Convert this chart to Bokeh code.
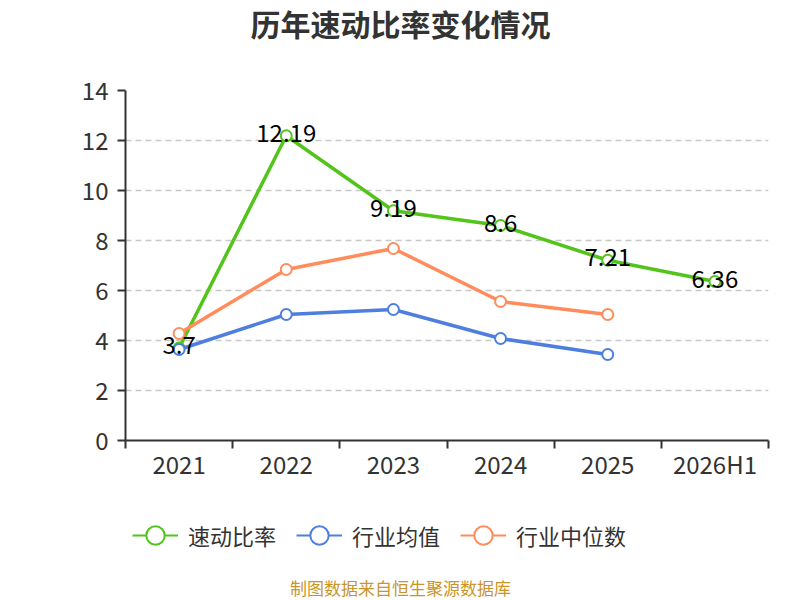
from bokeh.plotting import figure
from bokeh.layouts import column
from bokeh.models import (Range1d, FixedTicker, Legend, LegendItem, Label,
                          ColumnDataSource)
from bokeh.core.properties import value
from bokeh.embed import file_html
from bokeh.resources import INLINE

categories = ["2021", "2022", "2023", "2024", "2025", "2026H1"]
quick_ratio = [3.7, 12.19, 9.19, 8.6, 7.21, 6.36]
industry_mean = [3.64, 5.04, 5.24, 4.08, 3.44]
industry_median = [4.28, 6.84, 7.68, 5.56, 5.04]
y_ticks = [0, 2, 4, 6, 8, 10, 12, 14]

title_text = "历年速动比率变化情况"
source_text = "制图数据来自恒生聚源数据库"
series_names = ["速动比率", "行业均值", "行业中位数"]
colors = ["#52c41a", "#4e7fe0", "#ff8c5a"]

FONT = "Noto Sans CJK SC"
W = 800
H_TITLE, H_MAIN, H_LEG = 45, 450, 105
LEFT, RIGHT = 125, 32


def blank(h):
    # frames of the column children are aligned with the main chart's frame
    f = figure(width=W, height=h, output_backend="svg", toolbar_location=None,
               x_range=Range1d(0, W - LEFT - RIGHT), y_range=Range1d(0, h),
               x_axis_type=None, y_axis_type=None,
               min_border_left=LEFT, min_border_right=RIGHT,
               min_border_top=0, min_border_bottom=0)
    f.outline_line_color = None
    f.xgrid.grid_line_color = None
    f.ygrid.grid_line_color = None
    f.background_fill_color = "white"
    f.border_fill_color = "white"
    return f


# ---- title strip
pt = blank(H_TITLE)
pt.add_layout(Label(x=400 - LEFT, y=H_TITLE - 22, x_units="screen",
                    y_units="screen", text=title_text, text_align="center",
                    text_baseline="middle", text_font=FONT,
                    text_font_size="30px", text_font_style="bold",
                    text_color="#333333"))

# ---- main chart
TOP = 90 - H_TITLE
BOTTOM = H_TITLE + H_MAIN - 440
p = figure(width=W, height=H_MAIN, output_backend="svg", toolbar_location=None,
           x_range=Range1d(-0.5, len(categories) - 0.5),
           y_range=Range1d(0, 14),
           min_border_left=LEFT, min_border_right=RIGHT,
           min_border_top=TOP, min_border_bottom=BOTTOM)
p.outline_line_color = None
p.background_fill_color = "white"
p.border_fill_color = "white"
p.xgrid.grid_line_color = None
p.ygrid.grid_line_color = "#c8c8c8"
p.ygrid.grid_line_dash = "6 4"
p.ygrid.grid_line_width = 1.5
p.ygrid.ticker = FixedTicker(ticks=y_ticks)

p.yaxis.ticker = FixedTicker(ticks=y_ticks, minor_ticks=[])
p.yaxis.axis_line_color = "#333333"
p.yaxis.axis_line_width = 2
p.yaxis.major_tick_line_color = "#333333"
p.yaxis.major_tick_line_width = 2
p.yaxis.major_tick_out = 8
p.yaxis.major_tick_in = 0
p.yaxis.minor_tick_line_color = None
p.yaxis.major_label_text_font = FONT
p.yaxis.major_label_text_font_size = "24px"
p.yaxis.major_label_text_color = "#333333"
p.yaxis.major_label_standoff = 9

xs = list(range(len(categories)))
bounds = [i - 0.5 for i in range(len(categories) + 1)]
p.xaxis.ticker = FixedTicker(ticks=xs, minor_ticks=bounds)
p.xaxis.major_label_overrides = {i: c for i, c in enumerate(categories)}
p.xaxis.axis_line_color = "#333333"
p.xaxis.axis_line_width = 2
p.xaxis.major_tick_line_color = None
p.xaxis.major_tick_out = 0
p.xaxis.major_tick_in = 0
p.xaxis.minor_tick_line_color = "#333333"
p.xaxis.minor_tick_line_width = 2
p.xaxis.minor_tick_out = 8
p.xaxis.minor_tick_in = 0
p.xaxis.major_label_text_font = FONT
p.xaxis.major_label_text_font_size = "24px"
p.xaxis.major_label_text_color = "#333333"
p.xaxis.major_label_standoff = -3

series = [quick_ratio, industry_mean, industry_median]
for name, vals, col in zip(series_names, series, colors):
    src = ColumnDataSource(dict(x=xs[:len(vals)], y=vals))
    p.line("x", "y", source=src, line_color=col, line_width=3.5)
    p.scatter("x", "y", source=src, size=11, marker="circle",
              fill_color="white", line_color=col, line_width=2)

lab_src = ColumnDataSource(dict(x=xs, y=quick_ratio,
                                t=[f"{v:g}" for v in quick_ratio]))
p.text("x", "y", text="t", source=lab_src, text_align="center",
       text_baseline="middle", text_font=value(FONT), y_offset=-3,
       text_font_size="24px", text_color="#000000")

# ---- legend + source strip
pl = blank(H_LEG)
items = []
for name, col in zip(series_names, colors):
    dsrc = ColumnDataSource(dict(x=[-1000], y=[-1000]))
    ln = pl.line("x", "y", source=dsrc, line_color=col, line_width=2)
    sc = pl.scatter("x", "y", source=dsrc, size=18, marker="circle",
                    fill_color="white", line_color=col, line_width=2)
    items.append(LegendItem(label=name, renderers=[ln, sc]))
legend = Legend(items=items, orientation="horizontal",
                location=(132 - LEFT, 40), glyph_width=46, glyph_height=50,
                label_standoff=10, spacing=20, padding=0, margin=0,
                label_text_font=FONT, label_text_font_size="22px",
                label_text_color="#333333", border_line_color=None,
                background_fill_alpha=0)
pl.add_layout(legend, "center")
pl.add_layout(Label(x=400 - LEFT, y=13, x_units="screen",
                    y_units="screen", text=source_text, text_align="center",
                    text_baseline="middle", text_font=FONT,
                    text_font_size="17px", text_color="#c9952b"))

layout = column(pt, p, pl, spacing=0)
open("out.html", "w").write(file_html(layout, INLINE))
